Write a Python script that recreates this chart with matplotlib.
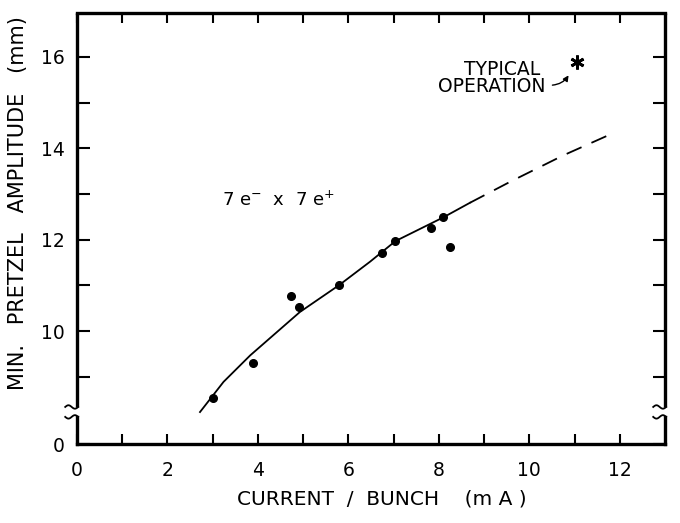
import numpy as np
import matplotlib.pyplot as plt

# measured points (current per bunch in mA, min. pretzel amplitude in mm)
current = [3.00, 3.89, 4.73, 4.91, 5.80, 6.74, 7.04, 7.83, 8.10, 8.25]
amplitude = [8.53, 9.31, 10.77, 10.53, 11.01, 11.70, 11.97, 12.26, 12.49, 11.85]

# hand drawn fit, solid part then extrapolated dashed part
fit_x = [2.72, 3.24, 3.83, 4.93, 5.80, 6.48, 7.04, 8.10, 8.69]
fit_y = [8.23, 8.89, 9.47, 10.42, 11.01, 11.52, 11.97, 12.49, 12.81]
ext_x = [8.69, 9.58, 10.76, 11.87]
ext_y = [12.81, 13.27, 13.85, 14.34]

# typical operating point
typ_x = [11.05]
typ_y = [15.88]

x_ticks = [0, 2, 4, 6, 8, 10, 12]
y_ticks = [10, 12, 14, 16]
y_zero = 7.53  # where the broken axis puts its "0"

plt.rcParams['font.family'] = 'DejaVu Sans'

fig = plt.figure(figsize=(6.8, 5.23), dpi=100)
ax = fig.add_axes([0.1132, 0.151, 0.8647, 0.824])

ax.plot(fit_x, fit_y, color='black', lw=1.3)
ax.plot(ext_x, ext_y, color='black', lw=1.3, dashes=(9, 6))
ax.plot(current, amplitude, 'o', color='black', ms=5.5)
ax.plot(typ_x, typ_y, marker=(6, 2, 0), color='black', ms=10, mew=2, ls='none')

ax.set_xlim(0, 13.0)
ax.set_ylim(y_zero, 16.96)

ax.set_xticks(x_ticks)
ax.set_xticklabels([str(t) for t in x_ticks])
ax.set_xticks(range(1, 13, 2), minor=True)
ax.set_yticks([y_zero] + y_ticks)
ax.set_yticklabels(['0'] + [str(t) for t in y_ticks])
ax.set_yticks([9, 11, 13, 15], minor=True)

ax.tick_params(which='both', direction='in', top=True, right=True,
               width=1.5, labelsize=13.5)
ax.tick_params(axis='x', which='both', length=7, pad=12)
ax.tick_params(axis='y', which='both', length=9, pad=9)

for s in ['top', 'bottom']:
    ax.spines[s].set_linewidth(2.4)
ax.spines['left'].set_visible(False)
ax.spines['right'].set_visible(False)

# broken left / right spines with squiggles
lo, hi = 0.063, 0.086
for xs in [0.0, 1.0]:
    ax.plot([xs, xs], [0, lo], transform=ax.transAxes, color='black', lw=2.4, clip_on=False)
    ax.plot([xs, xs], [hi, 1], transform=ax.transAxes, color='black', lw=2.4, clip_on=False,
            solid_capstyle='butt')
    t = np.linspace(0, 1, 30)
    sx = xs - 0.022 * (1 - t) + 0.002
    ax.plot(sx, hi + 0.004 * np.sin(t * 2 * np.pi), transform=ax.transAxes,
            color='black', lw=1.3, clip_on=False)
    ax.plot(sx, lo - 0.004 * np.sin(t * 2 * np.pi), transform=ax.transAxes,
            color='black', lw=1.3, clip_on=False)

ax.text(3.2, 12.87, r'7 e$^{-}$  x  7 e$^{+}$', fontsize=13, va='center')
ax.text(10.25, 15.73, 'TYPICAL', fontsize=13.5, ha='right', va='center')
ax.text(10.35, 15.35, 'OPERATION', fontsize=13.5, ha='right', va='center')
ax.annotate('', xy=(10.9, 15.65), xytext=(10.45, 15.38),
            arrowprops=dict(arrowstyle='-|>', color='black', lw=1,
                            connectionstyle='arc3,rad=0.3', mutation_scale=8))

ax.set_xlabel('CURRENT  /  BUNCH    (m A )', fontsize=14.5)
ax.xaxis.set_label_coords(0.519, -0.105)
ax.set_ylabel('MIN.   PRETZEL   AMPLITUDE   (mm)', fontsize=15)
ax.yaxis.set_label_coords(-0.083, 0.56)

fig.savefig('out.png', dpi=100)
